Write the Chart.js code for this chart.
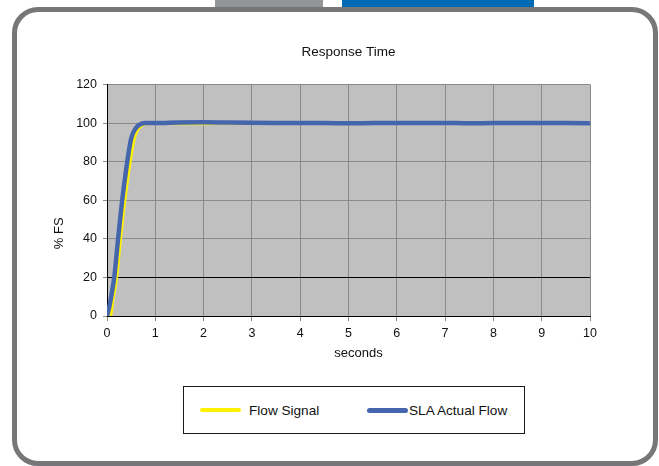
<!DOCTYPE html>
<html>
<head>
<meta charset="utf-8">
<script src="https://cdn.jsdelivr.net/npm/chart.js@4/dist/chart.umd.min.js"></script>
<style>
html,body{margin:0;padding:0;background:#fff;}
#wrap{position:relative;width:659px;height:466px;overflow:hidden;font-family:"Liberation Sans",Arial,sans-serif;}
#frame{position:absolute;left:12px;top:7px;width:636px;height:449px;border:5px solid #77777a;border-radius:26px;}
#tab1{position:absolute;left:215px;top:0;width:108px;height:7px;background:#939598;}
#tab2{position:absolute;left:342px;top:0;width:192px;height:7px;background:#006bb5;}
#c{position:absolute;left:0;top:0;}
#legend{position:absolute;left:183px;top:386px;width:340px;height:46px;border:1px solid #1a1a1a;background:#fff;}
.item{position:absolute;top:0;height:46px;display:flex;align-items:center;font-size:13.6px;color:#111;white-space:nowrap;}
.line{display:inline-block;width:41px;border-radius:3px;}
</style>
</head>
<body>
<div id="wrap">
  <div id="tab1"></div><div id="tab2"></div>
  <div id="frame"></div>
  <canvas id="c" width="659" height="466"></canvas>
  <div id="legend"></div>
</div>
<script>
// ---- data ----
const chartTitle = 'Response Time';
const xAxisTitle = 'seconds';
const yAxisTitle = '% FS';
const seriesNames = ['Flow Signal', 'SLA Actual Flow'];

const flowTime   = [0, 0.07, 0.12, 0.2, 0.28, 0.37, 0.48, 0.565, 0.65, 0.8, 0.9, 1, 1.5, 2, 2.5, 3, 4, 5, 6, 7, 8, 9, 10];
const flowSignal = [0, 0, 8, 20, 40, 60, 80, 92, 97, 99.6, 99.8, 99.8, 99.7, 99.7, 99.8, 99.9, 100, 100, 100, 100, 100, 100, 100];

const slaTime = [0, 0.05, 0.1, 0.15, 0.23, 0.315, 0.42, 0.5, 0.6, 0.72, 0.8, 1, 1.5, 2, 2.5, 3, 3.5, 4, 4.5, 5, 5.5, 6, 6.5, 7, 7.5, 8, 8.5, 9, 9.5, 10];
const slaFlow = [0, 5, 12, 20, 40, 60, 80, 92, 97.5, 99.7, 100, 100, 100.3, 100.4, 100.3, 100.2, 100.1, 100, 100, 99.9, 100, 100.1, 100, 100.1, 99.9, 100, 100, 100.1, 100, 99.9];

const xMin = 0, xMax = 10, xStep = 1;
const yMin = 0, yMax = 120, yStep = 20;

// ---- chart ----
const toPoints = (xs, ys) => xs.map((x, i) => ({x: x, y: ys[i]}));
const colors = ['#fff200', '#4565ad'];
const FONT = '"Liberation Sans", Arial, sans-serif';

const bgPlugin = {
  id: 'plotBg',
  beforeDraw(chart) {
    const a = chart.chartArea, ctx = chart.ctx;
    ctx.save();
    ctx.fillStyle = '#c0c0c0';
    ctx.fillRect(a.left, a.top, a.right - a.left, a.bottom - a.top);
    ctx.restore();
  }
};
const titleShift = {
  id: 'titleShift',
  afterLayout(chart) {
    const shift = (s, dx, dy) => {
      if (!s || s._shifted) return;
      const orig = s.drawTitle.bind(s);
      s.drawTitle = function () {
        this.ctx.save();
        this.ctx.translate(dx, dy);
        orig();
        this.ctx.restore();
      };
      s._shifted = true;
    };
    shift(chart.scales.x, 10, 0);
    shift(chart.scales.y, 0, 33);
  }
};

const gridGray = '#8a8a8a';
const chart = new Chart(document.getElementById('c'), {
  type: 'line',
  data: {
    datasets: [
      {label: seriesNames[0], data: toPoints(flowTime, flowSignal), borderColor: colors[0], backgroundColor: colors[0],
       borderWidth: 3, pointRadius: 0, cubicInterpolationMode: 'monotone', order: 1},
      {label: seriesNames[1], data: toPoints(slaTime, slaFlow), borderColor: colors[1], backgroundColor: colors[1],
       borderWidth: 4.5, pointRadius: 0, cubicInterpolationMode: 'monotone', order: 0}
    ]
  },
  options: {
    responsive: false,
    animation: false,
    layout: {padding: {left: 40, right: 69, top: 0, bottom: 90}},
    plugins: {
      legend: {display: false},
      tooltip: {enabled: false},
      title: {display: true, text: chartTitle, fullSize: false, color: '#111',
              font: {family: FONT, size: 13.5, weight: 'normal'},
              padding: {top: 44, bottom: 24.3}}
    },
    scales: {
      x: {
        type: 'linear', min: xMin, max: xMax,
        ticks: {stepSize: xStep, padding: 5, color: '#111', font: {family: FONT, size: 12.5}},
        grid: {color: c => (c.tick && c.tick.value === 0) ? '#000' : gridGray, tickColor: gridGray, tickLength: 5, lineWidth: 1},
        border: {color: '#000', width: 1},
        title: {display: true, text: xAxisTitle, color: '#111', font: {family: FONT, size: 13}, padding: {top: 0, bottom: 14.5}},
        afterFit: s => { s.height = 60; }
      },
      y: {
        min: yMin, max: yMax,
        ticks: {stepSize: yStep, padding: 6, color: '#111', font: {family: FONT, size: 12.5}},
        grid: {color: c => (c.tick && (c.tick.value === 20 || c.tick.value === 0)) ? '#000' : gridGray, tickColor: gridGray, tickLength: 4, lineWidth: 1},
        border: {color: '#000', width: 1},
        title: {display: true, text: yAxisTitle, color: '#111', font: {family: FONT, size: 13}, padding: {top: 11.5, bottom: 0}},
        afterFit: s => { s.width = 67; }
      }
    }
  },
  plugins: [bgPlugin, titleShift]
});

// ---- HTML legend built from the chart's datasets ----
const legendLeft = [16, 183];
const legendLineH = [4, 5];
const legendGap = [8, 1];
const leg = document.getElementById('legend');
chart.data.datasets.forEach((ds, i) => {
  const item = document.createElement('div');
  item.className = 'item';
  item.style.left = legendLeft[i] + 'px';
  const ln = document.createElement('span');
  ln.className = 'line';
  ln.style.height = legendLineH[i] + 'px';
  ln.style.background = ds.borderColor;
  ln.style.marginRight = legendGap[i] + 'px';
  const tx = document.createElement('span');
  tx.textContent = ds.label;
  item.appendChild(ln);
  item.appendChild(tx);
  leg.appendChild(item);
});
</script>
</body>
</html>
